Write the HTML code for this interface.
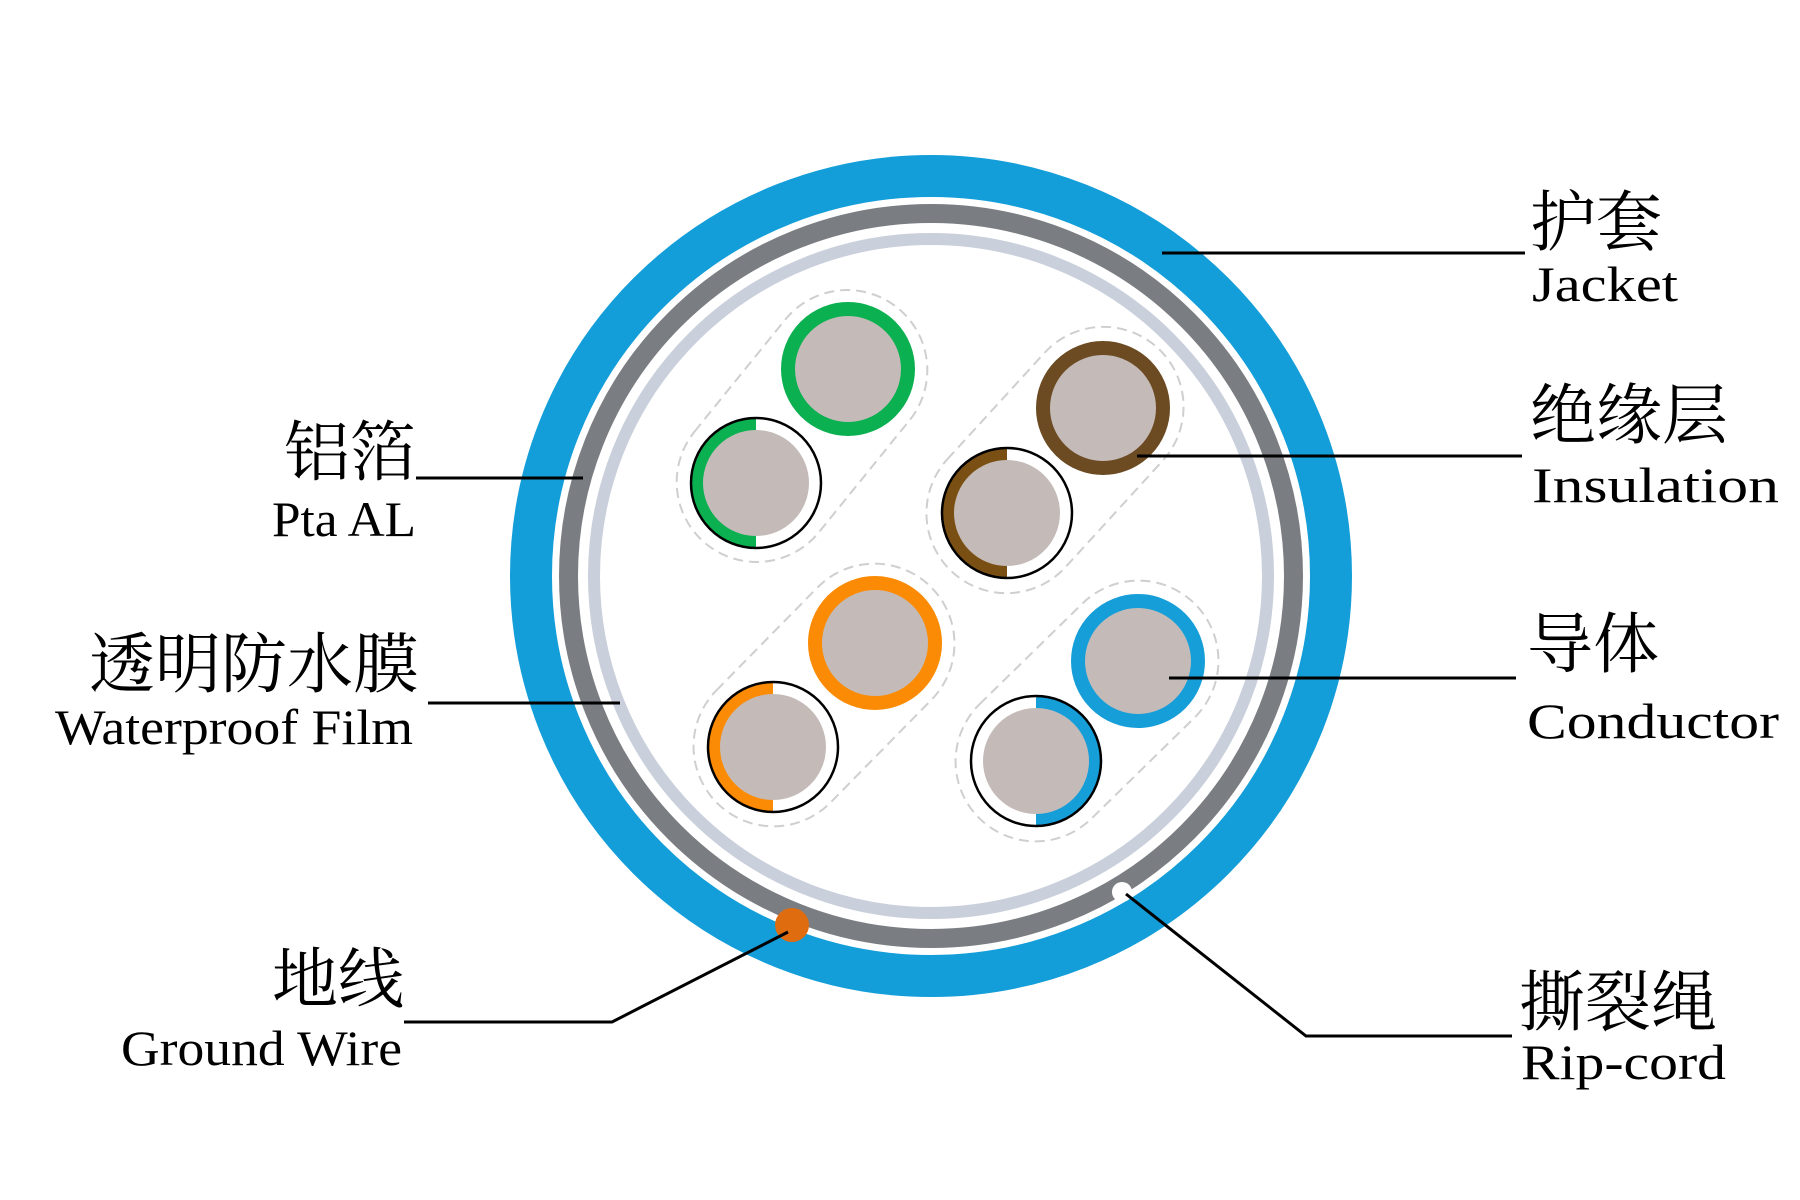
<!DOCTYPE html>
<html><head><meta charset="utf-8"><style>
html,body{margin:0;padding:0;background:#fff;}
svg{display:block;}
text{font-family:"Liberation Serif","Noto Serif CJK SC",serif;fill:#000;}
.cn{font-size:66px;}
.en{font-size:50px;}
</style></head><body>
<svg width="1800" height="1200" viewBox="0 0 1800 1200" xmlns="http://www.w3.org/2000/svg">
<rect width="1800" height="1200" fill="#fff"/>
<circle cx="931" cy="576" r="400" fill="none" stroke="#139ed9" stroke-width="42"/>
<circle cx="931" cy="576" r="378" fill="#fff"/>
<circle cx="931" cy="576" r="362.5" fill="none" stroke="#7a7d82" stroke-width="19"/>
<circle cx="931" cy="576" r="337" fill="none" stroke="#c9cfdb" stroke-width="12"/>
<g fill="none" stroke="#cfcfcf" stroke-width="2" stroke-dasharray="10 6">
<rect x="-152" y="-80" width="304" height="160" rx="80" transform="translate(802,426) rotate(-51)"/>
<rect x="-152" y="-80" width="304" height="160" rx="80" transform="translate(1055,460) rotate(-47.6)"/>
<rect x="-152" y="-80" width="304" height="160" rx="80" transform="translate(824,695) rotate(-45.5)"/>
<rect x="-152" y="-80" width="304" height="160" rx="80" transform="translate(1087,711) rotate(-44.4)"/>
</g>
<g stroke-width="14">
<circle cx="848" cy="369" r="60" fill="#c4bbb9" stroke="#0bb050"/>
<circle cx="1103" cy="408" r="60" fill="#c4bbb9" stroke="#6c4b22"/>
<circle cx="875" cy="643" r="60" fill="#c4bbb9" stroke="#fb8b05"/>
<circle cx="1138" cy="661" r="60" fill="#c4bbb9" stroke="#169ed9"/>
</g>
<g>
<circle cx="756" cy="483" r="65" fill="#fff"/>
<path d="M756,418 A65,65 0 0,0 756,548 Z" fill="#0bb050"/>
<circle cx="756" cy="483" r="53" fill="#c4bbb9"/>
<circle cx="756" cy="483" r="65" fill="none" stroke="#000" stroke-width="2.5"/>

<circle cx="1007" cy="513" r="65" fill="#fff"/>
<path d="M1007,448 A65,65 0 0,0 1007,578 Z" fill="#7a4f13"/>
<circle cx="1007" cy="513" r="53" fill="#c4bbb9"/>
<circle cx="1007" cy="513" r="65" fill="none" stroke="#000" stroke-width="2.5"/>

<circle cx="773" cy="747" r="65" fill="#fff"/>
<path d="M773,682 A65,65 0 0,0 773,812 Z" fill="#fb8b05"/>
<circle cx="773" cy="747" r="53" fill="#c4bbb9"/>
<circle cx="773" cy="747" r="65" fill="none" stroke="#000" stroke-width="2.5"/>

<circle cx="1036" cy="761" r="65" fill="#fff"/>
<path d="M1036,696 A65,65 0 0,1 1036,826 Z" fill="#169ed9"/>
<circle cx="1036" cy="761" r="53" fill="#c4bbb9"/>
<circle cx="1036" cy="761" r="65" fill="none" stroke="#000" stroke-width="2.5"/>
</g>
<circle cx="792" cy="925" r="17" fill="#e06c10"/>
<circle cx="1122" cy="892" r="10" fill="#fff"/>
<g stroke="#000" stroke-width="3" fill="none">
<line x1="1162" y1="253" x2="1525" y2="253"/>
<line x1="1137" y1="456" x2="1522" y2="456"/>
<line x1="1169" y1="678" x2="1516" y2="678"/>
<polyline points="1126,894 1306,1036 1512,1036"/>
<line x1="416" y1="478" x2="583" y2="478"/>
<line x1="428" y1="703" x2="620" y2="703"/>
<polyline points="404,1022 612,1022 788,932"/>
</g>
<text class="cn" x="1530" y="245">护套</text>
<text class="en" x="1532" y="301" textLength="146" lengthAdjust="spacingAndGlyphs">Jacket</text>
<text class="cn" x="1530" y="438">绝缘层</text>
<text class="en" x="1532" y="502" textLength="247" lengthAdjust="spacingAndGlyphs">Insulation</text>
<text class="cn" x="1527" y="667">导体</text>
<text class="en" x="1527" y="738" textLength="252" lengthAdjust="spacingAndGlyphs">Conductor</text>
<text class="cn" x="1519" y="1025">撕裂绳</text>
<text class="en" x="1521" y="1079" textLength="205" lengthAdjust="spacingAndGlyphs">Rip-cord</text>
<text class="cn" x="416" y="475" text-anchor="end">铝箔</text>
<text class="en" x="272" y="536" textLength="144" lengthAdjust="spacingAndGlyphs">Pta AL</text>
<text class="cn" x="419" y="687" text-anchor="end">透明防水膜</text>
<text class="en" x="55" y="744" textLength="358" lengthAdjust="spacingAndGlyphs">Waterproof Film</text>
<text class="cn" x="404" y="1002" text-anchor="end">地线</text>
<text class="en" x="121" y="1065" textLength="281" lengthAdjust="spacingAndGlyphs">Ground Wire</text>
</svg>
</body></html>
